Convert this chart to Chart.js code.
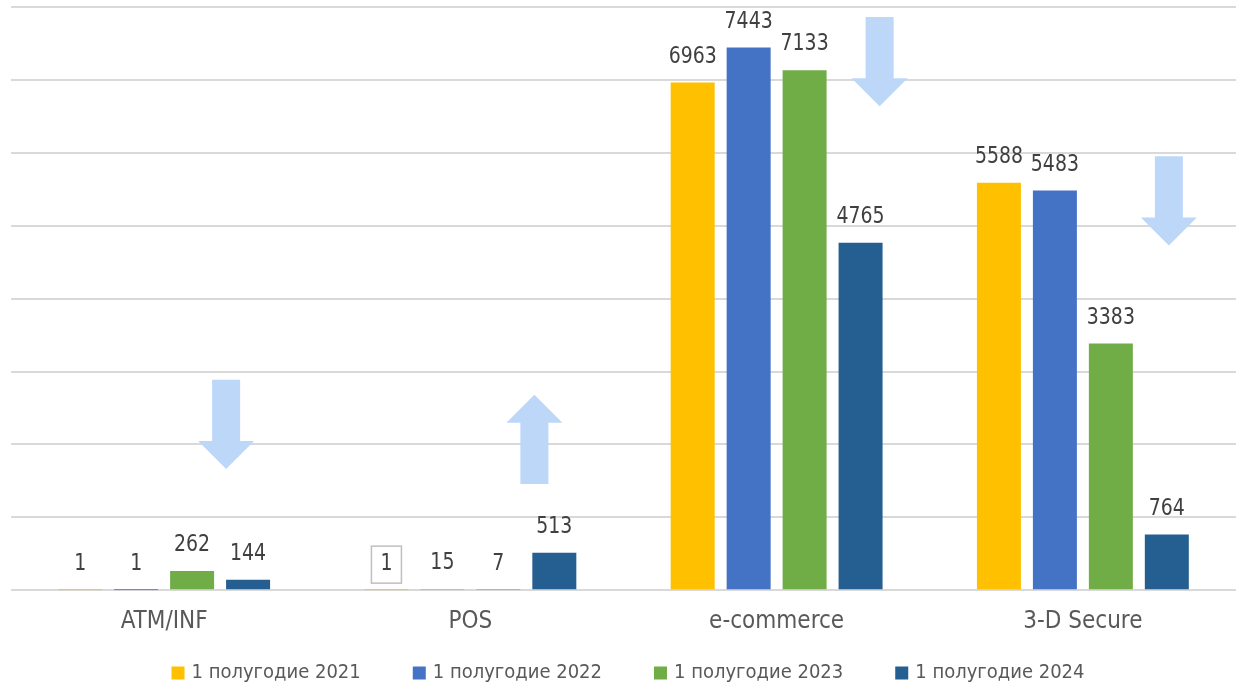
<!DOCTYPE html>
<html>
<head>
<meta charset="utf-8">
<script src="https://cdn.jsdelivr.net/npm/chart.js@4.4.1/dist/chart.umd.min.js"></script>
<style>
  html, body { margin: 0; padding: 0; background: #fff; }
  #wrap { width: 1239px; height: 686px; }
</style>
</head>
<body>
<div id="wrap"><canvas id="chart"></canvas></div>
<script>
// categories and series
const categories = ["ATM/INF", "POS", "e-commerce", "3-D Secure"];
const seriesNames = ["1 полугодие 2021", "1 полугодие 2022", "1 полугодие 2023", "1 полугодие 2024"];
const h1y2021 = [1, 1, 6963, 5588];
const h1y2022 = [1, 15, 7443, 5483];
const h1y2023 = [262, 7, 7133, 3383];
const h1y2024 = [144, 513, 4765, 764];
const yMax = 8000;
const yStep = 1000;

// trend arrows: direction, tail value, tip value (per category)
const arrowDir = ["down", "up", "down", "down"];
const arrowTail = [2887, 1457, 7863, 5952];
const arrowTip = [1663, 2680, 6639, 4729];
// label drawn with a frame: [category, series]
const framedLabels = [[1, 0]];

const colors = ["#FFC000", "#4472C4", "#70AD47", "#255E91"];
const FONT = "'DejaVu Sans Condensed', 'Liberation Sans Narrow', sans-serif";
const arrowShift = [62, 64, 103, 86];

const seriesValues = [h1y2021, h1y2022, h1y2023, h1y2024];

const extrasPlugin = {
  id: "extras",
  afterDatasetsDraw(chart) {
    const ctx = chart.ctx;
    const xs = chart.scales.x, ys = chart.scales.y;

    // arrows
    ctx.save();
    ctx.fillStyle = "#BDD7F9";
    for (let i = 0; i < categories.length; i++) {
      const cx = xs.getPixelForValue(i) + arrowShift[i];
      const yTail = ys.getPixelForValue(arrowTail[i]);
      const yTip = ys.getPixelForValue(arrowTip[i]);
      const dir = arrowDir[i] == "down" ? 1 : -1;
      const headLen = 28, shaftW = 14, headW = 28;
      const yBase = yTip - dir * headLen;
      ctx.beginPath();
      ctx.moveTo(cx - shaftW, yTail);
      ctx.lineTo(cx + shaftW, yTail);
      ctx.lineTo(cx + shaftW, yBase);
      ctx.lineTo(cx + headW, yBase);
      ctx.lineTo(cx, yTip);
      ctx.lineTo(cx - headW, yBase);
      ctx.lineTo(cx - shaftW, yBase);
      ctx.closePath();
      ctx.fill();
    }
    ctx.restore();

    // value labels
    chart.data.datasets.forEach(function (ds, d) {
      const meta = chart.getDatasetMeta(d);
      meta.data.forEach(function (bar, i) {
        const y = bar.y - 26;
        ctx.save();
        ctx.translate(bar.x, y);
        ctx.scale(1, 1.12);
        ctx.font = "21px " + FONT;
        ctx.fillStyle = "#404040";
        ctx.textAlign = "center";
        ctx.textBaseline = "middle";
        ctx.fillText(String(ds.data[i]), 0, 0);
        ctx.restore();
        framedLabels.forEach(function (f) {
          if (f[0] == i && f[1] == d) {
            ctx.save();
            ctx.strokeStyle = "#BFBFBF";
            ctx.lineWidth = 1.5;
            ctx.strokeRect(bar.x - 15, y - 18, 30, 37);
            ctx.restore();
          }
        });
      });
    });
  },
  afterDraw(chart) {
    // legend at the bottom: square + text, spaced like the original
    const ctx = chart.ctx;
    const box = 13, gap = 7, spacing = 52;
    ctx.save();
    ctx.font = "20px " + FONT;
    ctx.textBaseline = "middle";
    ctx.textAlign = "left";
    const widths = seriesNames.map(function (s) { return ctx.measureText(s).width; });
    let total = 0;
    widths.forEach(function (w) { total += box + gap + w; });
    total += spacing * (seriesNames.length - 1);
    let x = 628 - total / 2;
    const y = chart.height - 13;
    seriesNames.forEach(function (s, k) {
      ctx.fillStyle = colors[k];
      ctx.fillRect(x, y - box / 2, box, box);
      ctx.fillStyle = "#595959";
      ctx.fillText(s, x + box + gap, y);
      x += box + gap + widths[k] + spacing;
    });
    ctx.restore();
  }
};

new Chart(document.getElementById("chart"), {
  type: "bar",
  data: {
    labels: categories,
    datasets: seriesNames.map(function (name, k) {
      return {
        label: name,
        data: seriesValues[k],
        backgroundColor: colors[k],
        borderWidth: 0,
        categoryPercentage: 0.731,
        barPercentage: 0.786
      };
    })
  },
  options: {
    responsive: true,
    maintainAspectRatio: false,
    animation: false,
    layout: { padding: { left: 11, right: 3, top: 7, bottom: 41 } },
    plugins: {
      tooltip: { enabled: false },
      legend: { display: false }
    },
    scales: {
      x: {
        grid: { display: false },
        border: { display: false },
        ticks: { color: "#595959", padding: 9, font: { family: FONT, size: 24 } }
      },
      y: {
        min: 0,
        max: yMax,
        ticks: { display: false, stepSize: yStep },
        border: { display: false },
        grid: { color: "#D9D9D9", lineWidth: 2, drawTicks: false },
        afterFit(scale) { scale.width = 0; }
      }
    }
  },
  plugins: [extrasPlugin]
});
</script>
</body>
</html>
